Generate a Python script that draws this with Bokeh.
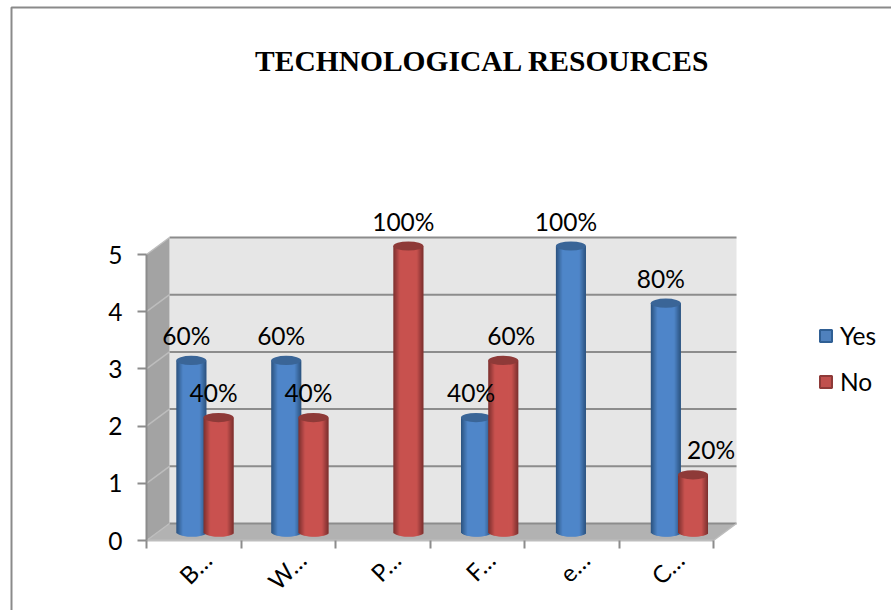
from bokeh.embed import file_html
from bokeh.resources import INLINE
from bokeh.plotting import figure
from bokeh.models import (Range1d, LinearAxis, FixedTicker, Legend, LegendItem)
from bokeh.core.properties import value

# Chart values
categories = ["B…", "W…", "P…", "F…", "e…", "C…"]
yes_counts = [3, 3, 0, 2, 5, 4]
no_counts = [2, 2, 5, 3, 0, 1]
yes_labels = ["60%", "60%", "", "40%", "100%", "80%"]
no_labels = ["40%", "40%", "100%", "60%", "", "20%"]
value_ticks = [0, 1, 2, 3, 4, 5]
title_text = "TECHNOLOGICAL RESOURCES"

W, H = 891, 610
LEFT, BOTTOM = 146, 70          # canvas position of category 0 / value 0
UX, UY = 94.5, 57.2             # pixels per category / per value
DEPTH_X, DEPTH_Y = 23 / UX, 17 / UY   # oblique offset of the back wall
N = len(categories)
VMAX = value_ticks[-1]
FONT = "Lato"
GRID = "#8c8c8c"
RULE = "#8a8a8a"


def mix(a, b, t):
    ca = [int(a[i:i + 2], 16) for i in (1, 3, 5)]
    cb = [int(b[i:i + 2], 16) for i in (1, 3, 5)]
    return "#" + "".join(f"{round(x + (y - x) * t):02x}" for x, y in zip(ca, cb))


def px(x):
    return (x - LEFT) / UX


def py(y):
    return (H - BOTTOM - y) / UY


p = figure(width=W, height=H, x_range=Range1d(px(0), px(W)), y_range=Range1d(py(H), py(0)),
           output_backend="svg", toolbar_location=None, x_axis_type=None, y_axis_type=None,
           min_border=0, background_fill_color="white", border_fill_color="white", outline_line_color=None)
p.grid.visible = False

# Page rule around the chart
p.line([px(11), px(11), px(W)], [py(H), py(7), py(7)], line_color=RULE, line_width=2)

# Legend swatches: zero-sized quads that only supply the legend's colours
swatch_yes = p.quad(left=[0], right=[0], bottom=[0], top=[0], fill_color="#4f81bd", line_color="#2f5f94", line_width=2)
swatch_no = p.quad(left=[0], right=[0], bottom=[0], top=[0], fill_color="#c0504d", line_color="#8e3a38", line_width=2)

# Box: back wall, side wall, floor
p.patch([DEPTH_X, N + DEPTH_X, N + DEPTH_X, DEPTH_X], [DEPTH_Y, DEPTH_Y, VMAX + DEPTH_Y, VMAX + DEPTH_Y],
        fill_color="#e6e6e6", line_color=None)
p.patch([0, DEPTH_X, DEPTH_X, 0], [0, DEPTH_Y, VMAX + DEPTH_Y, VMAX], fill_color="#a3a3a3", line_color=None)
p.patch([0, N, N + DEPTH_X, DEPTH_X], [0, 0, DEPTH_Y, DEPTH_Y], fill_color="#b2b2b2", line_color=None)

# Gridlines on the back wall and their continuation over the side wall
for v in value_ticks:
    p.line([DEPTH_X, N + DEPTH_X], [v + DEPTH_Y, v + DEPTH_Y], line_color=GRID, line_width=2)
    p.line([0, DEPTH_X], [v, v + DEPTH_Y], line_color="#bdbdbd", line_width=1.5)
p.line([N, N + DEPTH_X], [0, DEPTH_Y], line_color="#bdbdbd", line_width=1.5)

# Cylinders
HALF_W = 15 / UX
SEMI_H = 4.6 / UY
BASE = 8.5 / UY
STRIPS = 30
OVERLAP = 1.2 / UX
STEP = 94.9 / UX
PALETTES = {
    "yes": ("#2b527f", "#4f86c9", "#3a6597"),
    "no": ("#7b2f2d", "#c9524f", "#8e3a38"),
}


def cylinder(cx, v, palette):
    edge, mid, top = palette
    left, right, bottom, upper, colors = [], [], [], [], []
    for i in range(STRIPS):
        t0 = -1 + 2 * i / STRIPS
        t1 = t0 + 2 / STRIPS
        tc = (t0 + t1) / 2
        shade = min(1.0, (1 - abs(tc)) / 0.45)
        left.append(cx + HALF_W * t0)
        right.append(min(cx + HALF_W, cx + HALF_W * t1 + OVERLAP))
        bottom.append(BASE - SEMI_H * (1 - tc * tc) ** 0.5)
        upper.append(BASE + v)
        colors.append(mix(edge, mid, shade))
    p.quad(left=left, right=right, bottom=bottom, top=upper, fill_color=colors, line_color=None)
    p.ellipse(x=[cx], y=[BASE + v], width=HALF_W * 2, height=SEMI_H * 2, fill_color=top, line_color=None)


YES_POS, NO_POS = 0.474, 0.762
for i in range(N):
    if yes_counts[i] > 0:
        cylinder(i * STEP + YES_POS, yes_counts[i], PALETTES["yes"])
    if no_counts[i] > 0:
        cylinder(i * STEP + NO_POS, no_counts[i], PALETTES["no"])

# Value labels above each cylinder; two are moved clear of their neighbours
NUDGE = {("no", 3): 13 / UX, ("no", 5): 23 / UX}
lx, ly, lt = [], [], []
for key, pos, counts, labels in (("yes", YES_POS, yes_counts, yes_labels), ("no", NO_POS, no_counts, no_labels)):
    for i, (c, s) in enumerate(zip(counts, labels)):
        if s:
            lx.append(i * STEP + pos - 5 / UX + NUDGE.get((key, i), 0))
            ly.append(c + BASE + 25 / UY)
            lt.append(s)
p.text(x=lx, y=ly, text=lt, text_font=value(FONT), text_font_size="24.5px", text_color="#000000",
       text_align="center", text_baseline="middle")

# Title
p.text(x=[px(482)], y=[py(60)], text=[title_text],
       text_font=value("Liberation Serif"), text_font_style="bold", text_font_size="29.5px",
       text_color="#000000", text_align="center", text_baseline="middle")

# Axes pinned at the box's front edges, inside the full-canvas frame
y_axis = LinearAxis(ticker=FixedTicker(ticks=value_ticks), bounds=(0, VMAX), fixed_location=0, axis_line_color=GRID,
                    axis_line_width=2, major_tick_line_color=GRID, major_tick_line_width=2,
                    major_tick_in=0, major_tick_out=9, minor_tick_line_color=None,
                    major_label_text_font=FONT, major_label_text_font_size="24.5px",
                    major_label_text_color="#000000", major_label_standoff=15)
p.add_layout(y_axis, "left")

LABEL_SHIFT = 0.64
x_axis = LinearAxis(ticker=FixedTicker(ticks=[i + LABEL_SHIFT for i in range(N)], minor_ticks=list(range(N + 1))),
                    bounds=(0, N), fixed_location=0, axis_line_color="#bdbdbd", axis_line_width=2,
                    major_tick_line_color=None, minor_tick_line_color=GRID, minor_tick_line_width=2,
                    minor_tick_in=0, minor_tick_out=8,
                    major_label_overrides={i + LABEL_SHIFT: c for i, c in enumerate(categories)},
                    major_label_orientation=0.785, major_label_text_font=FONT,
                    major_label_text_font_size="24px", major_label_text_color="#000000",
                    major_label_standoff=7)
p.add_layout(x_axis, "below")

# Legend
legend = Legend(items=[LegendItem(label="Yes", renderers=[swatch_yes]), LegendItem(label="No", renderers=[swatch_no])],
                location=(818, 214), orientation="vertical", background_fill_alpha=0, border_line_color=None,
                label_text_font=FONT, label_text_font_size="24.5px", label_text_color="#000000",
                glyph_width=15, glyph_height=15, spacing=17, padding=0, margin=0, label_standoff=7)
p.add_layout(legend, "center")

open("out.html", "w").write(file_html(p, INLINE))
